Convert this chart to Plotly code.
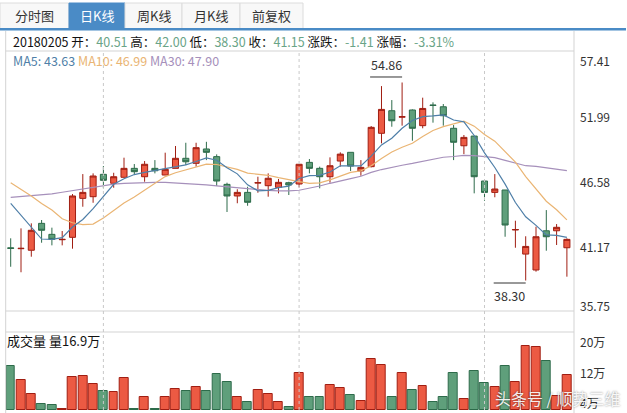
import plotly.graph_objects as go

W, H = 627, 413

# ---------------- data ----------------
opens = [41.03, 40.96, 40.83, 43.08, 42.16, 41.71, 41.91, 45.17, 45.31, 47.18,
         46.43, 46.93, 47.68, 46.98, 47.68, 47.12, 47.68, 48.52, 48.10, 49.30,
         48.66, 46.34, 45.37, 45.67, 46.45, 46.23, 46.09, 46.48, 46.37, 48.18,
         47.68, 46.98, 48.29, 49.02, 47.46, 47.82, 50.61, 52.50, 51.96, 52.56,
         51.25, 52.98, 52.83, 51.03, 49.57, 50.38, 46.62, 45.67, 45.87, 42.53,
         40.51, 39.18, 42.46, 42.46, 41.04]
highs = [41.83, 42.66, 43.08, 43.36, 42.72, 42.44, 45.53, 47.20, 47.26, 47.87,
         47.31, 48.57, 48.04, 48.29, 48.37, 48.99, 49.55, 49.82, 49.82, 49.90,
         48.85, 46.48, 45.93, 46.14, 46.98, 47.26, 46.79, 46.56, 48.02, 48.46,
         47.82, 48.60, 49.02, 49.02, 48.37, 51.22, 54.56, 53.39, 54.86, 52.61,
         53.59, 53.20, 53.06, 51.30, 50.47, 50.38, 46.62, 47.20, 45.87, 43.30,
         42.00, 42.80, 44.19, 43.02, 41.83]
lows = [39.45, 38.99, 40.29, 41.46, 41.24, 41.24, 40.96, 44.47, 44.80, 46.01,
        46.06, 46.93, 47.18, 46.56, 47.26, 47.12, 47.68, 47.96, 47.82, 48.37,
        46.20, 44.03, 44.76, 44.55, 45.64, 45.31, 45.59, 45.45, 46.09, 47.26,
        46.01, 46.48, 47.82, 47.46, 47.06, 47.76, 49.77, 51.16, 51.25, 49.99,
        51.03, 51.50, 51.25, 48.37, 48.87, 45.59, 44.97, 45.26, 41.96, 41.04,
        38.30, 39.04, 40.79, 41.27, 38.62]
closes = [40.99, 40.99, 42.50, 42.50, 41.74, 41.74, 45.37, 45.67, 47.04, 46.68,
          46.98, 47.68, 47.40, 48.02, 47.48, 47.60, 48.52, 48.23, 49.41, 49.02,
          46.62, 45.37, 45.67, 44.84, 46.48, 46.85, 46.51, 46.29, 48.02, 47.68,
          46.98, 47.90, 48.87, 47.87, 47.76, 51.11, 52.61, 51.66, 52.00, 51.03,
          52.69, 52.94, 52.08, 49.86, 50.27, 46.98, 45.67, 45.95, 42.94, 42.56,
          41.15, 41.96, 41.96, 42.75, 41.74]
ma5 = [44.75, 43.77, 42.80, 41.77, 41.74, 41.89, 42.77, 43.40, 44.31, 45.30,
       46.35, 46.81, 47.16, 47.35, 47.51, 47.64, 47.80, 47.97, 48.25, 48.56,
       48.36, 47.73, 47.22, 46.30, 45.80, 45.84, 46.07, 46.19, 46.83, 47.07,
       47.10, 47.37, 47.89, 47.86, 47.88, 48.70, 49.64, 50.20, 51.03, 51.68,
       52.00, 52.06, 52.15, 51.72, 51.57, 50.43, 48.97, 47.75, 46.36, 44.82,
       43.63, 42.91, 42.11, 42.08, 41.91]
ma10 = [46.48, 45.95, 45.37, 44.75, 44.19, 43.47, 43.13, 42.97, 43.02, 43.52,
        44.12, 44.79, 45.28, 45.83, 46.41, 46.99, 47.31, 47.56, 47.80, 48.03,
        48.00, 47.77, 47.59, 47.28, 47.18, 47.10, 46.90, 46.71, 46.57, 46.43,
        46.47, 46.72, 47.04, 47.34, 47.47, 47.90, 48.51, 49.05, 49.44, 49.78,
        50.35, 50.85, 51.17, 51.37, 51.62, 51.21, 50.52, 49.95, 49.04, 48.20,
        46.99, 45.95, 44.93, 44.22, 43.37]
ma30 = [45.26, 45.32, 45.38, 45.45, 45.55, 45.68, 45.82, 45.98, 46.12, 46.27,
        46.36, 46.43, 46.47, 46.50, 46.51, 46.50, 46.46, 46.40, 46.35, 46.29,
        46.22, 46.14, 46.05, 45.95, 45.87, 45.83, 45.80, 45.79, 45.85, 46.00,
        46.20, 46.43, 46.65, 46.82, 47.02, 47.34, 47.58, 47.78, 47.94, 48.09,
        48.28, 48.45, 48.61, 48.67, 48.76, 48.74, 48.64, 48.57, 48.35, 48.14,
        47.90, 47.84, 47.72, 47.65, 47.49]
volumes = [11.6, 7.9, 4.1, 1.5, 1.2, 0.35, 8.6, 8.9, 6.8, 5.0,
           4.7, 8.3, 0.35, 3.3, 0.35, 3.3, 5.4, 5.0, 6.0, 5.0,
           9.5, 7.3, 3.3, 2.0, 5.2, 4.1, 2.0, 0.7, 9.7, 3.3,
           3.3, 6.5, 5.7, 3.9, 2.3, 13.3, 11.8, 3.3, 9.7, 5.2,
           6.2, 2.0, 3.3, 9.7, 2.8, 10.2, 7.0, 6.0, 11.5, 7.3,
           16.9, 16.5, 12.8, 3.6, 9.1]  # 万
price_ticks = [57.41, 51.99, 46.58, 41.17, 35.75]
vol_ticks = [20, 12, 4]
tabs = ["分时图", "日K线", "周K线", "月K线", "前复权"]
active_tab = 1
month_marks = [9, 28, 46]
info_date = "20180205"
info_open, info_high, info_low, info_close = 40.51, 42.00, 38.30, 41.15
info_change, info_pct = -1.41, -3.31
ma_now = [43.63, 46.99, 47.90]
vol_now = 16.9
high_idx, low_idx = 38, 50

# ---------------- style ----------------
FONT = "Noto Sans CJK SC, Noto Sans, sans-serif"
RED_FILL, RED_LINE = "#ec5a43", "#a01e12"
GRN_FILL, GRN_LINE = "#5f9f7b", "#2d6b4a"
MA5_C, MA10_C, MA30_C = "#4f7fa8", "#eab574", "#a690bb"
VAL_C = "#6aa487"
GRID_C = "#d3d3d3"
BLUE = "#4a8bc6"

n = len(closes)
xs = list(range(n))

# pixel geometry
PX_L, PX_R = 5.7, 574.0
P_TOP, P_BOT = 52.0, 311.0
V_TOP, V_BOT = 332.0, 410.0
STEP = 10.3
x0 = -(10.7 - PX_L) / STEP
x1 = x0 + (PX_R - PX_L) / STEP


def px(x):
    return x / W


def py(y):
    return 1 - y / H


fig = go.Figure()

fig.add_trace(go.Candlestick(
    x=xs, open=opens, high=highs, low=lows, close=closes,
    increasing=dict(fillcolor=RED_FILL, line=dict(color=RED_LINE, width=1)),
    decreasing=dict(fillcolor=GRN_FILL, line=dict(color=GRN_LINE, width=1)),
    whiskerwidth=0, xaxis="x", yaxis="y", showlegend=False, hoverinfo="skip"))

for vals, col in [(ma30, MA30_C), (ma10, MA10_C), (ma5, MA5_C)]:
    fig.add_trace(go.Scatter(x=xs, y=vals, mode="lines",
                             line=dict(color=col, width=1.2),
                             xaxis="x", yaxis="y", showlegend=False, hoverinfo="skip"))

up = [c >= o for o, c in zip(opens, closes)]
fig.add_trace(go.Bar(
    x=xs, y=volumes, width=0.86,
    marker=dict(color=[RED_FILL if u else GRN_FILL for u in up],
                line=dict(color=[RED_LINE if u else GRN_LINE for u in up], width=1)),
    xaxis="x2", yaxis="y2", showlegend=False, hoverinfo="skip"))

shapes = []
annos = []

# tab bar
tab_edges = [0, 69, 125, 182, 240, 303]
for i, t in enumerate(tabs):
    a, b = tab_edges[i], tab_edges[i + 1]
    act = i == active_tab
    shapes.append(dict(type="rect", xref="paper", yref="paper",
                       x0=px(a), x1=px(b), y0=py(28.5), y1=py(3),
                       fillcolor=BLUE if act else "#f8f8f8",
                       line=dict(color=BLUE if act else "#dcdcdc", width=1), layer="above"))
    annos.append(dict(text=t, xref="paper", yref="paper", x=px((a + b) / 2), y=py(16),
                      showarrow=False, xanchor="center", yanchor="middle",
                      font=dict(family=FONT, size=13, color="#ffffff" if act else "#333333")))
shapes.append(dict(type="rect", xref="paper", yref="paper", x0=px(0), x1=px(626),
                   y0=py(30.5), y1=py(28), fillcolor=BLUE, line=dict(width=0), layer="above"))

# frame lines
for yv in [51, P_BOT, V_TOP]:
    shapes.append(dict(type="line", xref="paper", yref="paper", x0=px(PX_L), x1=px(PX_R),
                       y0=py(yv), y1=py(yv), line=dict(color=GRID_C, width=1)))
for xv in [PX_L, PX_R]:
    shapes.append(dict(type="line", xref="paper", yref="paper", x0=px(xv), x1=px(xv),
                       y0=py(31), y1=py(H), line=dict(color=GRID_C, width=1)))

# dotted month separators
for m in month_marks:
    shapes.append(dict(type="line", xref="x", yref="paper", x0=m, x1=m,
                       y0=py(V_BOT), y1=py(51), layer="above",
                       line=dict(color="#c9c9c9", width=1, dash="dot")))

# info line
def v(s):
    return f'<span style="color:{VAL_C}">{s}</span>'

info = (f"{info_date} 开：{v(f'{info_open:.2f}')} 高：{v(f'{info_high:.2f}')} "
        f"低：{v(f'{info_low:.2f}')} 收：{v(f'{info_close:.2f}')} "
        f"涨跌：{v(f'{info_change:.2f}')} 涨幅：{v(f'{info_pct:.2f}%')}")
annos.append(dict(text=info, xref="paper", yref="paper", x=px(11), y=py(41),
                  showarrow=False, xanchor="left", yanchor="middle",
                  font=dict(family=FONT, size=12.5, color="#111111")))

ma_txt = (f'<span style="color:{MA5_C}">MA5: {ma_now[0]:.2f}</span> '
          f'<span style="color:{MA10_C}">MA10: {ma_now[1]:.2f}</span> '
          f'<span style="color:{MA30_C}">MA30: {ma_now[2]:.2f}</span>')
annos.append(dict(text=ma_txt, xref="paper", yref="paper", x=px(11), y=py(60.5),
                  showarrow=False, xanchor="left", yanchor="middle",
                  font=dict(family=FONT, size=12.5)))

# right axis labels
for t in price_ticks:
    shift = -9 if t == max(price_ticks) else (6 if t == min(price_ticks) else 0)
    annos.append(dict(text=f"{t:.2f}", xref="paper", yref="y", x=px(578), y=t, yshift=shift,
                      showarrow=False, xanchor="left", yanchor="middle",
                      font=dict(family=FONT, size=12, color="#333333")))
for t in vol_ticks:
    annos.append(dict(text=f"{t}万", xref="paper", yref="y2", x=px(578), y=t, yshift=-8,
                      showarrow=False, xanchor="left", yanchor="middle",
                      font=dict(family=FONT, size=12, color="#333333")))

annos.append(dict(text=f"成交量 量{vol_now}万", xref="paper", yref="paper", x=px(5), y=py(340),
                  showarrow=False, xanchor="left", yanchor="middle",
                  font=dict(family=FONT, size=13, color="#111111")))

# high / low markers
ppu = (P_BOT - P_TOP) / (price_ticks[0] - price_ticks[-1])
lab_w = 32 / STEP
hi = highs[high_idx]
hy = hi + 5.5 / ppu
shapes.append(dict(type="line", xref="x", yref="y", x0=high_idx - lab_w, x1=high_idx,
                   y0=hy, y1=hy, line=dict(color="#333333", width=1)))
annos.append(dict(text=f"{hi:.2f}", xref="x", yref="y", x=high_idx - lab_w / 2, y=hy,
                  yshift=1, showarrow=False, xanchor="center", yanchor="bottom",
                  font=dict(family=FONT, size=12.5, color="#333333")))
lo = lows[low_idx]
ly = lo - 2.5 / ppu
shapes.append(dict(type="line", xref="x", yref="y", x0=low_idx - lab_w, x1=low_idx,
                   y0=ly, y1=ly, line=dict(color="#333333", width=1)))
annos.append(dict(text=f"{lo:.2f}", xref="x", yref="y", x=low_idx - lab_w / 2, y=ly,
                  yshift=-1, showarrow=False, xanchor="center", yanchor="top",
                  font=dict(family=FONT, size=12.5, color="#333333")))

# watermark
annos.append(dict(text="头条号 / 顺势三维", xref="paper", yref="paper", x=px(557), y=py(398),
                  showarrow=False, xanchor="center", yanchor="middle",
                  font=dict(family=FONT, size=16, color="rgba(255,255,255,0.92)",
                            shadow="0px 0px 2px rgba(0,0,0,0.55)")))

ax_common = dict(visible=False, showgrid=False, zeroline=False, fixedrange=True)
fig.update_layout(
    width=W, height=H, margin=dict(l=0, r=0, t=0, b=0),
    paper_bgcolor="white", plot_bgcolor="white",
    boxgap=0.16, bargap=0, showlegend=False,
    xaxis=dict(domain=[px(PX_L), px(PX_R)], range=[x0, x1], rangeslider=dict(visible=False),
               **ax_common),
    yaxis=dict(domain=[py(P_BOT), py(P_TOP)], range=[price_ticks[-1], price_ticks[0]], **ax_common),
    xaxis2=dict(domain=[px(PX_L), px(PX_R)], range=[x0, x1], anchor="y2", **ax_common),
    yaxis2=dict(domain=[py(V_BOT), py(V_TOP)], range=[0, 20.5], anchor="x2", **ax_common),
    shapes=shapes, annotations=annos,
)

fig.write_html("out.html")
